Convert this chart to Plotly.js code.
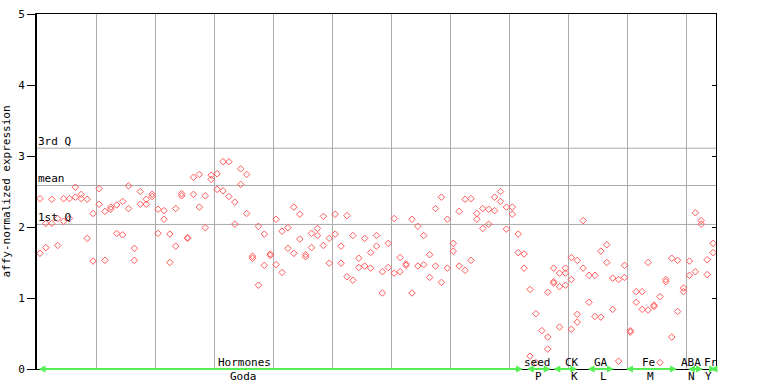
<!DOCTYPE html>
<html>
<head>
<meta charset="utf-8">
<script src="https://cdn.plot.ly/plotly-3.0.1.min.js"></script>
<style>html,body{margin:0;padding:0;background:#fff;}#chart{width:768px;height:384px;}</style>
</head>
<body>
<div id="chart"></div>
<script>
// replicate values per sample column (0..114); rep3 only where a third point exists
const rep1 = [2.40,2.05,2.39,2.12,2.40,2.40,2.56,2.46,2.39,2.19,
              2.54,2.22,2.28,2.31,2.36,2.58,1.70,2.50,2.39,2.46,
              2.25,2.23,1.90,2.26,2.47,1.85,2.70,2.74,2.44,2.73,
              2.75,2.92,2.92,2.35,2.82,2.74,1.59,2.01,1.90,1.62,
              2.11,1.94,1.99,2.28,2.18,1.61,1.91,1.98,2.15,1.84,
              2.18,1.73,2.16,1.88,1.56,1.84,1.64,1.88,1.37,1.77,
              2.12,1.57,1.48,2.11,2.01,1.88,1.61,2.26,2.42,2.11,
              1.77,2.22,2.39,2.40,2.19,2.26,2.25,2.42,2.50,2.28,
              2.28,1.90,1.62,1.12,0.78,0.54,1.08,1.42,1.35,1.42,
              1.57,1.53,2.09,1.32,1.32,1.66,1.75,1.28,1.26,1.46,
              0.54,1.09,1.09,1.50,0.90,1.02,1.26,1.56,1.53,1.14,
              1.52,2.20,2.09,1.54,1.77];
const rep2 = [1.63,1.71,2.05,1.74,2.08,2.12,2.42,2.40,1.84,1.52,
              2.32,1.53,2.25,1.91,1.89,2.26,1.53,2.32,2.32,2.43,
              1.91,2.11,1.50,1.73,2.44,1.84,2.46,2.28,1.99,2.67,
              2.53,2.51,2.43,2.04,2.60,2.19,1.56,1.18,1.46,1.60,
              1.47,1.36,1.70,1.63,1.83,1.58,1.71,1.88,1.74,1.49,
              1.90,1.49,1.30,1.25,1.43,1.45,1.42,1.73,1.07,1.43,
              1.35,1.37,1.46,1.07,1.45,1.47,1.29,1.45,1.22,1.42,
              1.66,1.45,1.39,1.53,2.11,1.98,2.04,2.23,2.36,1.97,
              2.18,1.64,1.42,0.18,0.09,null,0.45,1.23,1.16,1.35,
              1.26,0.77,1.42,0.94,0.74,0.73,1.50,0.84,0.11,1.29,
              0.52,0.94,0.84,0.83,0.88,0.09,1.23,0.45,0.81,1.09,
              1.32,1.37,2.04,1.33,1.64];
const rep3 = {86:0.28, 87:1.21, 88:0.59, 89:1.18, 90:0.56, 91:0.66};

const statLabels = ['3rd Q','mean','1st Q'];
const statValues = [3.11, 2.585, 2.036];

const groupTop    = ['Hormones','seed','CK','GA','Fe','ABA','Fr'];
const groupBottom = ['Goda','P','K','L','M','N','Y'];
const groupStart  = [0, 82.7, 87.2, 93, 99.5, 110, 113.8];
const groupEnd    = [82.3, 87, 91.5, 97.7, 108.4, 112.8, 115];

const nCols = rep1.length;
const xs = [], ys = [];
for (let i = 0; i < nCols; i++) {
  if (rep1[i] != null) { xs.push(i + 0.5); ys.push(rep1[i]); }
  if (rep2[i] != null) { xs.push(i + 0.5); ys.push(rep2[i]); }
  if (rep3[i] != null) { xs.push(i + 0.5); ys.push(rep3[i]); }
}

const FONT = {family: 'DejaVu Sans Mono, monospace', size: 11, color: '#000'};
const red = '#ff5a5a';

const traces = [
  {x: xs, y: ys, type: 'scatter', mode: 'markers', hoverinfo: 'none',
   marker: {symbol: 'diamond-open', size: 5, color: red, line: {width: 1, color: red}}},
  {x: [], y: [], yaxis: 'y2', type: 'scatter', mode: 'markers', showlegend: false}
];

const shapes = statValues.map(v => ({type: 'line', xref: 'paper', yref: 'y', x0: 0, x1: 1, y0: v, y1: v,
  line: {color: '#aaaaaa', width: 1}, layer: 'below'}));

const annotations = [];
statLabels.forEach((t, i) => annotations.push({text: t, xref: 'paper', yref: 'y', x: 0, y: statValues[i],
  xanchor: 'left', yanchor: 'bottom', showarrow: false, font: FONT, borderpad: 0, yshift: -1}));

const topX = [35.2, 84.7, 90.6, 95.5, 103.5, 110.8, 114.2];
const botX = [34.9, 84.9, 91.0, 95.9, 103.9, 110.8, 113.8];
groupTop.forEach((t, i) => {
  annotations.push({text: t, xref: 'x', yref: 'paper', x: topX[i], y: 0.018, xanchor: 'center', yanchor: 'middle',
    showarrow: false, font: FONT, borderpad: 0});
  annotations.push({text: groupBottom[i], xref: 'x', yref: 'paper', x: botX[i], y: -0.022, xanchor: 'center', yanchor: 'middle',
    showarrow: false, font: FONT, borderpad: 0});
  annotations.push({text: '', xref: 'x', yref: 'y', axref: 'x', ayref: 'y', x: groupEnd[i], y: 0, ax: groupStart[i], ay: 0,
    showarrow: true, arrowside: 'end+start', arrowhead: 2, arrowsize: 0.7, arrowwidth: 2, arrowcolor: '#55ee55',
    standoff: 0, startstandoff: 0});
});

const layout = {
  width: 768, height: 384,
  margin: {l: 37, r: 52, t: 14, b: 15, pad: 0},
  paper_bgcolor: '#fff', plot_bgcolor: '#fff',
  showlegend: false,
  font: FONT,
  xaxis: {range: [0, 115], tickvals: [10,20,30,40,50,60,70,80,90,100,110], showticklabels: false, ticks: '',
    showgrid: true, gridcolor: '#aaaaaa', gridwidth: 1, zeroline: false,
    showline: true, linecolor: '#000', linewidth: 1, mirror: true, fixedrange: true},
  yaxis: {range: [0, 5], tickvals: [0,1,2,3,4,5], ticktext: ['0','1','2','3','4','5'],
    ticks: 'outside', ticklen: 8, tickwidth: 1, tickcolor: '#000', showgrid: false, zeroline: false,
    showline: true, linecolor: '#000', linewidth: 2, automargin: false, tickfont: FONT,
    title: {text: 'affy-normalized expression', font: FONT, standoff: 9}},
  yaxis2: {range: [0, 5], overlaying: 'y', side: 'right', tickvals: [0,1,2,3,4,5], ticks: 'inside', ticklen: 4,
    tickcolor: '#000', showticklabels: false, showgrid: false, zeroline: false, showline: true, linecolor: '#000', linewidth: 1},
  shapes: shapes,
  annotations: annotations
};

Plotly.newPlot('chart', traces, layout, {staticPlot: true, displayModeBar: false});
</script>
</body>
</html>
